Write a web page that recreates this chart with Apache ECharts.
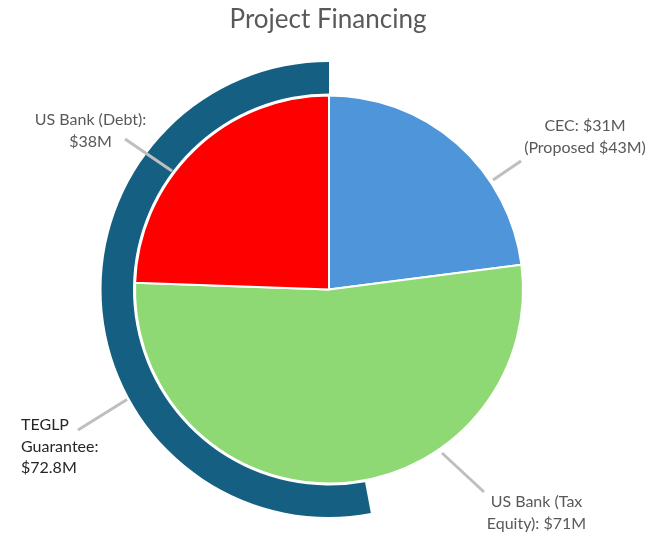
<!DOCTYPE html>
<html>
<head>
<meta charset="utf-8">
<script src="https://cdn.jsdelivr.net/npm/echarts@6/dist/echarts.min.js"></script>
<style>
html,body{margin:0;padding:0;background:#fff;}
#chart{width:656px;height:535px;}
</style>
</head>
<body>
<div id="chart"></div>
<script>
// ---- data ----
var sliceNames = ['CEC', 'US Bank (Tax Equity)', 'US Bank (Debt)'];
var sliceValues = [31, 71, 33];
var sliceLabels = ['CEC: $31M\n(Proposed $43M)', 'US Bank (Tax\nEquity): $71M', 'US Bank (Debt):\n$38M'];
var ringName = 'TEGLP Guarantee';
var ringValue = 72.8;
var ringRest = 64.7;
var ringLabel = 'TEGLP\nGuarantee:\n$72.8M';

// ---- layout / style ----
var CX = 329, CY = 289.5;
var sliceColors = ['#4E95D9', '#8ED973', '#FF0000'];
var ringColor = '#156082';
var pieLabelLayout = [
  {x: 585, y: 136.5, align: 'center', line: [[493, 180], [507, 170.5], [521, 161]]},
  {x: 536.5, y: 512.5, align: 'center', line: [[442, 453], [463, 472.5], [484, 492]]},
  {x: 90.5, y: 130.5, align: 'center', line: [[172, 171], [148.5, 155], [125, 139]]}
];
var ringLabelLayout = {x: 21, y: 446.5, align: 'left', line: [[127, 399.5], [102.5, 414.7], [78, 430]]};

var pieData = sliceNames.map(function (n, i) {
  return {name: n, value: sliceValues[i], itemStyle: {color: sliceColors[i]}};
});
var ringData = [
  {name: ringName, value: ringValue, itemStyle: {color: ringColor}},
  {name: '', value: ringRest, itemStyle: {color: 'rgba(0,0,0,0)'}, label: {show: false}, labelLine: {show: false}}
];

var chart = echarts.init(document.getElementById('chart'), null, {renderer: 'canvas'});
chart.setOption({
  animation: false,
  backgroundColor: '#fff',
  title: {
    text: 'Project Financing',
    left: 'center',
    top: 2,
    textStyle: {fontFamily: 'Lato', fontSize: 26, fontWeight: 'normal', color: '#595959'}
  },
  series: [
    {
      type: 'pie',
      z: 1,
      center: [CX, CY],
      radius: [196, 227.5],
      startAngle: 90,
      clockwise: false,
      silent: true,
      label: {
        show: true,
        overflow: 'none',
        formatter: function () { return ringLabel; },
        fontFamily: 'Lato', fontSize: 16, lineHeight: 21.5, color: '#262626', align: 'left'
      },
      labelLine: {show: true, lineStyle: {color: '#BFBFBF', width: 3}},
      labelLayout: function (p) {
        var l = ringLabelLayout;
        return {x: l.x, y: l.y, align: l.align, verticalAlign: 'middle', labelLinePoints: l.line};
      },
      data: ringData
    },
    {
      type: 'pie',
      z: 3,
      center: [CX, CY],
      radius: [0, 194],
      startAngle: 90,
      clockwise: true,
      silent: true,
      itemStyle: {borderColor: '#fff', borderWidth: 2},
      label: {
        show: true,
        overflow: 'none',
        formatter: function (p) { return sliceLabels[p.dataIndex]; },
        fontFamily: 'Lato', fontSize: 16, lineHeight: 22, color: '#595959', align: 'center'
      },
      labelLine: {show: true, lineStyle: {color: '#BFBFBF', width: 3}},
      labelLayout: function (p) {
        var l = pieLabelLayout[p.dataIndex];
        return {x: l.x, y: l.y, align: l.align, verticalAlign: 'middle', labelLinePoints: l.line};
      },
      data: pieData
    }
  ]
});
</script>
</body>
</html>
